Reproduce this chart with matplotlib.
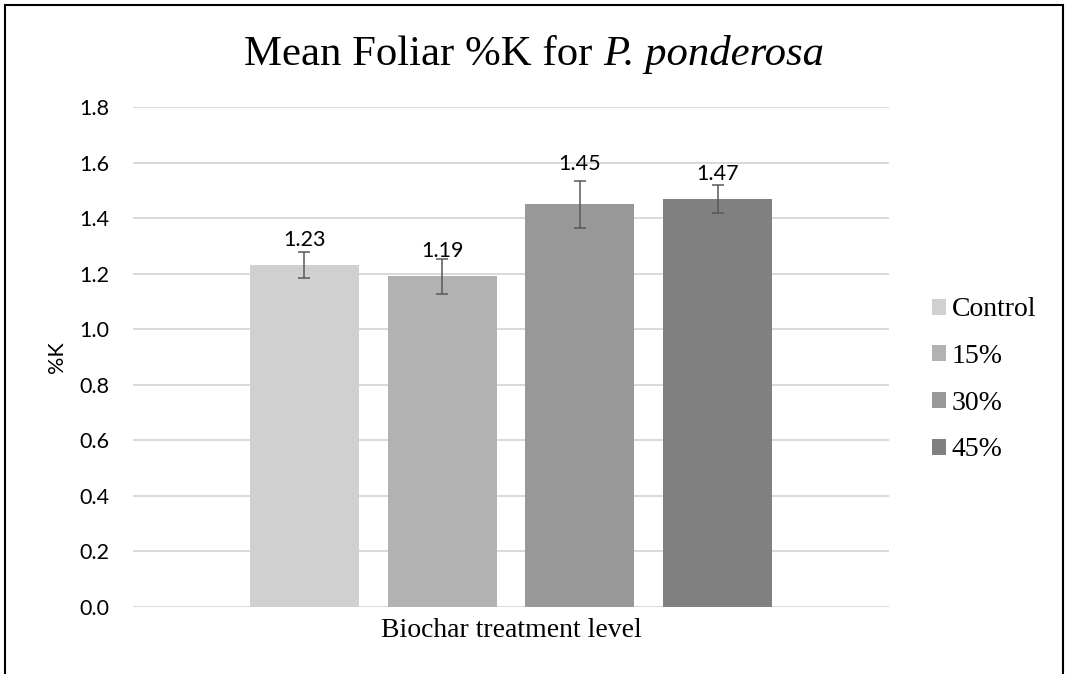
import numpy as np
import matplotlib
matplotlib.use("Agg")
import matplotlib.pyplot as plt
from matplotlib.patches import Rectangle

# data
levels = ["Control", "15%", "30%", "45%"]
means = [1.23, 1.19, 1.45, 1.47]
errs = [0.047, 0.062, 0.085, 0.05]
colors = ["#D0D0D0", "#B2B2B2", "#989898", "#808080"]
label_offsets_px = [25.5, 25.5, 40, 25]  # where Excel put the value labels

W, H = 1066, 674
fig = plt.figure(figsize=(W / 100, H / 100), dpi=100)
ax = fig.add_axes([133 / W, 1 - 607 / H, (889 - 133) / W, (607 - 107) / H])

x = np.arange(len(levels))
for i in range(len(levels)):
    ax.bar(x[i], means[i], width=0.79, color=colors[i], label=levels[i], zorder=2)
    ax.errorbar(x[i], means[i], yerr=errs[i], fmt='none', ecolor='#595959',
                elinewidth=1.1, capsize=4.3, capthick=1.1, zorder=3)
    ax.annotate(f"{means[i]:.2f}", (x[i], means[i]),
                xytext=(0, label_offsets_px[i] * 0.72), textcoords='offset points',
                ha='center', va='center', fontsize=15.5, family='Lato', color='black', zorder=4)

ax.set_xlim(-1.243, 4.243)
ax.set_ylim(0, 1.8)
ticks = np.arange(0, 1.81, 0.2)
ax.set_yticks(ticks)
ax.set_yticklabels([f"{t:.1f}" for t in ticks], family='Lato', fontsize=15.5)
ax.set_xticks([])
ax.tick_params(axis='y', length=0, pad=17)
ax.yaxis.grid(True, color='#D9D9D9', linewidth=1.4, zorder=0)
ax.set_axisbelow(True)
for s in ax.spines.values():
    s.set_visible(False)

fig.text(57 / W, 1 - 357 / H, "%K", rotation=90, ha='center', va='center',
         family='Lato', fontsize=15.5)
fig.text(511 / W, 1 - 637 / H, "Biochar treatment level", ha='center', va='baseline',
         family='Liberation Serif', fontsize=20)

# title: roman part + italic species name, laid side by side
r = fig.canvas.get_renderer()
t1 = fig.text(0, 1 - 65 / H, "Mean Foliar %K for ", ha='left', va='baseline',
              family='Liberation Serif', fontsize=30.8)
t2 = fig.text(0, 1 - 65 / H, "P. ponderosa", ha='left', va='baseline',
              family='Liberation Serif', style='italic', fontsize=30.8)
w1 = t1.get_window_extent(r).width
w2 = t2.get_window_extent(r).width
x0 = 534 - (w1 + w2) / 2
t1.set_x(x0 / W)
t2.set_x((x0 + w1) / W)

leg = ax.legend(loc='center left', bbox_to_anchor=(932 / W, 1 - 380 / H),
                bbox_transform=fig.transFigure, frameon=False,
                prop={'family': 'Liberation Serif', 'size': 20},
                handlelength=0.5, handleheight=0.5, handletextpad=0.22,
                labelspacing=0.78, borderpad=0, borderaxespad=0)

fig.patches.append(Rectangle((5 / W, -0.05), (1063 - 5) / W, 1.05 - 5 / H,
                             transform=fig.transFigure, fill=False,
                             edgecolor='black', linewidth=1.5))

fig.savefig("out.png", dpi=100)
